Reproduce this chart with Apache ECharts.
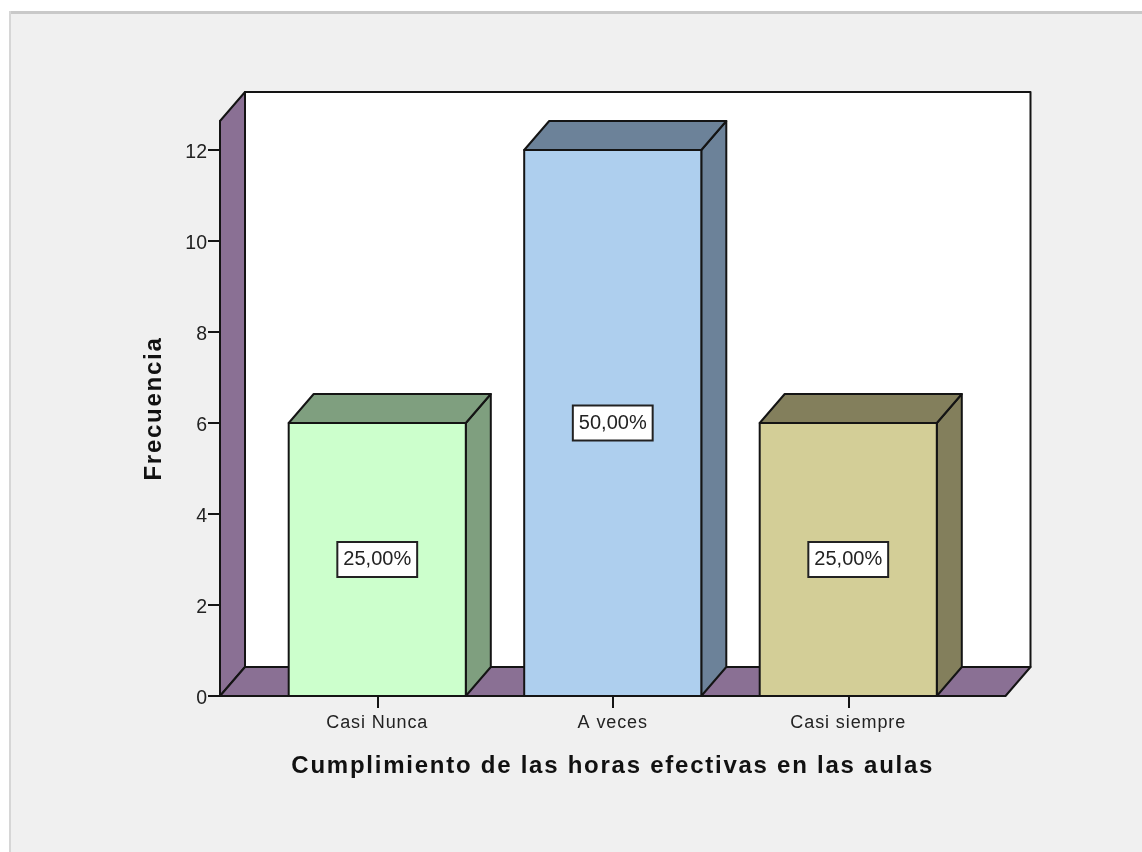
<!DOCTYPE html>
<html><head><meta charset="utf-8">
<style>html,body{margin:0;padding:0;background:#fff}#c{width:1142px;height:852px}</style>
<script src="https://cdn.jsdelivr.net/npm/echarts@6/dist/echarts.min.js"></script>
</head><body><div id="c"></div>
<script>
const categories = ['Casi Nunca', 'A veces', 'Casi siempre'];
const frequencies = [6, 12, 6];
const percentLabels = ['25,00%', '50,00%', '25,00%'];
const frontColors = ['#ccffcc', '#aecfee', '#d3ce97'];
const sideColors = ['#7f9f7f', '#6c8299', '#837f5c'];
const yTicks = [0, 2, 4, 6, 8, 10, 12];
const yMax = 12.637;

const FONT = '"Liberation Sans", Arial, sans-serif';
const DX = 25, DY = 29, SIDE = 39.5, WALL = '#8a7094', LINE = '#141414';
const lineStyle = { stroke: LINE, lineWidth: 2, lineJoin: 'round' };

// The reference's text is tracked wider than the font's natural spacing.
const nativeFillText = CanvasRenderingContext2D.prototype.fillText;
CanvasRenderingContext2D.prototype.fillText = function (text, x, y, maxWidth) {
  const f = this.font;
  this.letterSpacing = /bold/.test(f) ? '1.75px' : /\b18px/.test(f) ? '0.9px' : '0px';
  return maxWidth === undefined ? nativeFillText.call(this, text, x, y) : nativeFillText.call(this, text, x, y, maxWidth);
};

function poly(points, fill, z2) {
  return { type: 'polygon', shape: { points }, style: Object.assign({ fill }, lineStyle), z2: z2 || 0 };
}

const chart = echarts.init(document.getElementById('c'), null, { renderer: 'canvas', width: 1142, height: 852 });
chart.setOption({
  animation: false,
  backgroundColor: '#ffffff',
  graphic: [
    { type: 'rect', z: -10, silent: true, shape: { x: 10, y: 13, width: 1132, height: 839 }, style: { fill: '#f0f0f0' } },
    { type: 'rect', z: -9, silent: true, shape: { x: 9, y: 11, width: 1133, height: 3 }, style: { fill: '#c9c9c9' } },
    { type: 'rect', z: -9, silent: true, shape: { x: 9, y: 11, width: 2, height: 841 }, style: { fill: '#d6d6d6' } }
  ],
  grid: { left: 259.5, width: 706.5, top: 121, height: 575, containLabel: false },
  xAxis: {
    type: 'category', data: categories,
    name: 'Cumplimiento de las horas efectivas en las aulas',
    nameLocation: 'middle', nameGap: 58,
    nameTextStyle: { fontFamily: FONT, fontWeight: 'bold', fontSize: 24, color: '#111' },
    axisLine: { show: false },
    axisTick: { show: true, alignWithLabel: true, length: 12, lineStyle: { color: LINE, width: 2 } },
    axisLabel: { fontFamily: FONT, fontSize: 18, color: '#222', margin: 18 }
  },
  yAxis: {
    type: 'value', min: 0, max: yMax, offset: 39.5,
    name: 'Frecuencia', nameLocation: 'middle', nameGap: 54,
    nameTextStyle: { fontFamily: FONT, fontWeight: 'bold', fontSize: 24, color: '#111' },
    splitLine: { show: false },
    axisLine: { show: true, lineStyle: { color: LINE, width: 2 } },
    axisTick: { show: true, length: 12, customValues: yTicks, lineStyle: { color: LINE, width: 2 } },
    axisLabel: { fontFamily: FONT, fontSize: 19.5, color: '#222', margin: 13, verticalAlign: 'top', lineHeight: 5, customValues: yTicks, formatter: v => String(v) }
  },
  series: [
    {
      type: 'custom', coordinateSystem: 'cartesian2d', z: 1, data: [0], silent: true,
      encode: { x: -1, y: -1 },
      renderItem(params, api) {
        const g = params.coordSys;
        const l = g.x - SIDE, r = g.x + g.width + SIDE, t = g.y, b = g.y + g.height;
        return { type: 'group', children: [
          poly([[l + DX, t - DY], [r + DX, t - DY], [r + DX, b - DY], [l + DX, b - DY]], '#ffffff'),
          poly([[l, t], [l + DX, t - DY], [l + DX, b - DY], [l, b]], WALL),
          poly([[l, b], [l + DX, b - DY], [r + DX, b - DY], [r, b]], WALL)
        ] };
      }
    },
    {
      type: 'custom', coordinateSystem: 'cartesian2d', z: 2, silent: true,
      data: frequencies.map((v, i) => [i, v]),
      encode: { x: 0, y: 1 },
      renderItem(params, api) {
        const i = api.value(0), v = api.value(1);
        const w = api.size([1, 0])[0] * 0.752;
        const top = api.coord([i, v]), base = api.coord([i, 0]);
        const l = top[0] - w / 2, r = top[0] + w / 2, t = top[1], b = base[1];
        const mid = api.coord([i, v / 2]);
        return { type: 'group', children: [
          poly([[r, t], [r + DX, t - DY], [r + DX, b - DY], [r, b]], sideColors[i]),
          poly([[l, t], [l + DX, t - DY], [r + DX, t - DY], [r, t]], sideColors[i]),
          poly([[l, t], [r, t], [r, b], [l, b]], frontColors[i]),
          { type: 'text', z2: 5, x: mid[0], y: mid[1], style: {
            text: percentLabels[i], fontFamily: FONT, fontSize: 20, fill: '#222',
            align: 'center', verticalAlign: 'middle',
            backgroundColor: '#ffffff', borderColor: '#222', borderWidth: 2, padding: [9, 5, 4, 5]
          } }
        ] };
      }
    }
  ]
});
</script></body></html>
